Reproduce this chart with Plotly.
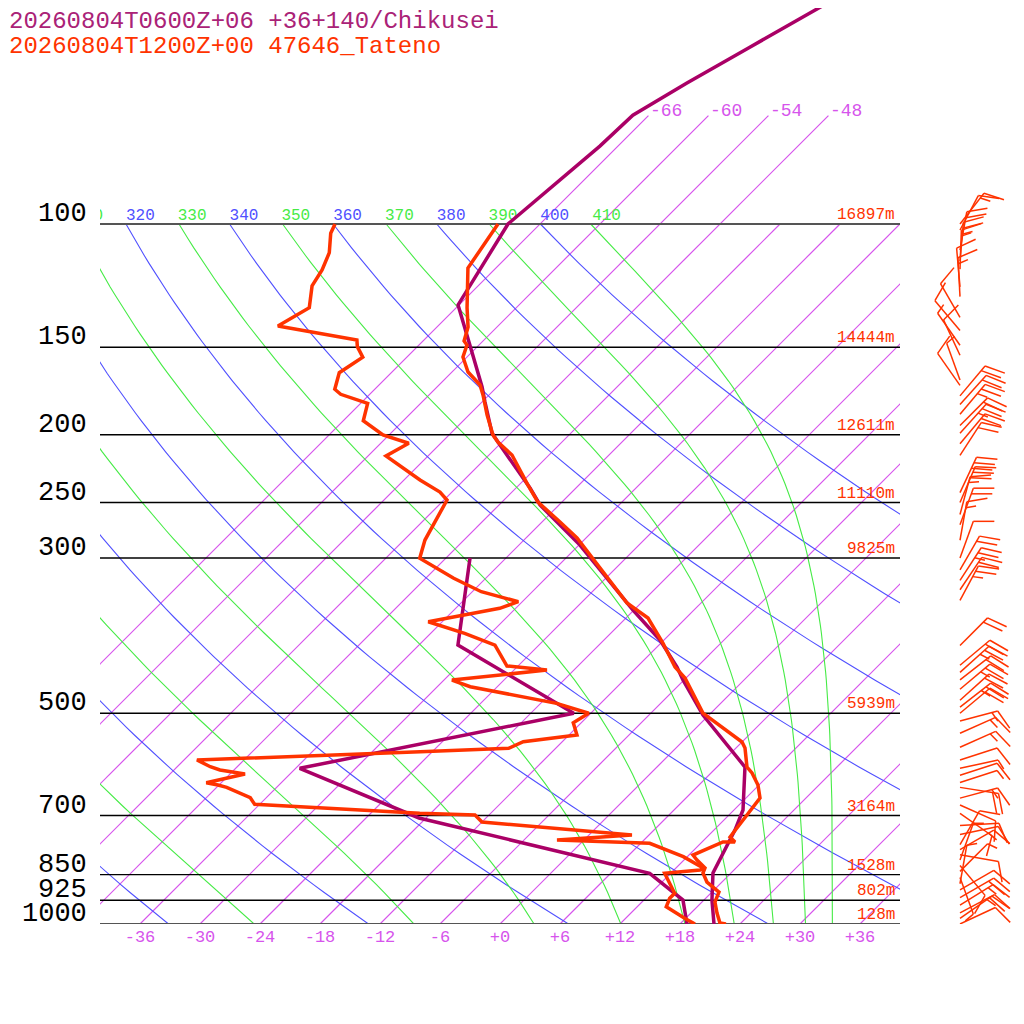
import numpy as np
import plotly.graph_objects as go

# 20260804T0600Z+06 forecast, +36+140/Chikusei (purple)
fc_t_p = [1000, 924.2, 845.6, 734.1, 687.3, 596.7, 502.9, 448.2, 429.4, 392.9, 356.0, 300.0,
          287.5, 252.0, 238.3, 206.9, 198.9, 179.6, 170.9, 152.4, 130.5, 100.0, 86.5, 77.4,
          69.9, 62.9, 55.9, 49.8, 46.8]
fc_t = [21.4, 18.8, 16.2, 14.1, 12.9, 8.8, -0.6, -6.1, -8.0, -12.4, -18.1, -27.6,
        -29.9, -37.9, -40.6, -47.9, -49.9, -53.7, -55.5, -60.0, -66.1, -69.2, -68.4, -67.8,
        -67.6, -65.4, -62.7, -59.9, -58.6]
fc_td_p = [1000, 924.2, 846.5, 705.6, 599.2, 500.0, 399.5, 300.0]
fc_td = [18.7, 15.9, 9.9, -18.7, -35.6, -13.7, -32.1, -39.6]

# 20260804T1200Z+00 observation, 47646_Tateno (orange)
ob_t_p = [1000, 996.8, 964.5, 930.3, 900.2, 871.1, 845.6, 831.8, 810.2, 797.0, 763.6, 763.6,
          751.1, 660.7, 633.1, 608.5, 596.7, 560.5, 549.5, 516.2, 499.6, 445.2, 436.5, 429.4,
          396.9, 365.5, 347.9, 300.0, 280.9, 266.5, 249.6, 236.0, 213.8, 204.9, 200.2, 187.4,
          175.5, 169.8, 162.7, 154.9, 148.9, 146.9, 140.3, 131.8, 115.6, 100.0]
ob_t = [22.6, 21.9, 20.6, 19.3, 18.7, 16.5, 15.2, 14.9, 13.3, 12.4, 14.1, 15.3,
        14.3, 13.4, 11.9, 10.1, 9.0, 6.9, 6.0, 1.6, -0.8, -6.1, -7.2, -8.2,
        -11.8, -15.8, -19.4, -27.3, -30.9, -34.2, -38.4, -41.1, -45.7, -48.4, -49.6, -52.2,
        -54.6, -55.9, -58.4, -60.4, -61.2, -61.9, -62.9, -64.9, -68.8, -70.2]
ob_td_p = [1000, 981.6, 944.8, 919.0, 904.0, 846.5, 837.3, 832.6, 801.4, 766.9, 758.6, 746.3,
           715.0, 698.7, 694.8, 674.6, 660.1, 637.9, 633.1, 628.3, 610.5, 602.6, 596.1, 583.1,
           567.4, 561.1, 549.0, 537.1, 515.8, 500.0, 483.9, 458.2, 448.2, 433.7, 428.0, 399.5,
           384.4, 370.0, 354.0, 346.4, 335.2, 320.7, 300.3, 282.8, 247.9, 241.5, 232.1, 214.5,
           205.7, 200.2, 191.0, 180.4, 175.1, 172.2, 163.1, 155.0, 149.7, 146.5, 139.9, 131.7,
           122.6, 116.3, 109.9, 103.1, 100.0]
ob_td = [19.5, 17.9, 14.9, 14.4, 14.4, 11.4, 14.6, 14.8, 11.6, 6.9, -2.7, 4.3,
         -12.0, -13.4, -19.1, -36.5, -37.6, -41.0, -42.1, -43.5, -40.5, -43.4, -44.7, -46.7,
         -25.2, -16.7, -15.9, -11.2, -12.8, -12.2, -16.4, -26.7, -29.2, -20.7, -25.1, -28.4,
         -32.6, -37.4, -31.6, -30.4, -35.1, -39.2, -44.6, -45.9, -47.7, -49.2, -52.4, -58.2,
         -57.2, -60.6, -64.0, -65.3, -68.9, -70.0, -71.2, -70.4, -72.0, -72.7, -82.0, -80.7,
         -82.6, -83.2, -84.2, -86.0, -86.5]

# standard levels and observed heights
levels = [100, 150, 200, 250, 300, 500, 700, 850, 925, 1000]
level_heights = ["16897m", "14444m", "12611m", "11110m", "9825m", "5939m", "3164m", "1528m", "802m", "128m"]

# Tateno winds (direction the barb points, knots)
wind_p = [1000, 982, 964, 940, 917, 894, 876, 858, 841, 825, 810, 796, 783, 770, 745, 723,
          695, 676, 661, 638, 628, 613, 599, 583, 559, 534, 513, 500, 490, 479, 462, 448,
          437, 427, 400, 345, 333, 323, 312, 300, 283, 269, 260, 250, 242, 214, 206, 199,
          194, 187, 181, 176, 170, 167, 154, 149, 142, 136, 127, 123, 116, 113, 109, 102, 100]
wind_dir = [65, 55, 62, 58, 60, 60, 10, 160, 45, 140, 20, 100, 60, 30, 78, 87,
            125, 114, 75, 99, 72, 72, 78, 72, 66, 66, 75, 50, 52, 48, 50, 52,
            48, 50, 45, 28, 34, 33, 30, 20, 10, 20, 15, 23, 25, 33, 40, 42,
            45, 40, 42, 40, -35, -20, -25, -35, -40, -30, -3, -5, 2, 5, 10, 28, 38]
wind_kt = [10, 15, 20, 15, 20, 10, 5, 5, 5, 10, 5, 10, 15, 10, 10, 10,
           10, 10, 15, 20, 5, 10, 5, 10, 15, 15, 15, 20, 25, 20, 25, 20,
           25, 20, 20, 25, 20, 25, 20, 10, 15, 20, 15, 30, 30, 20, 20, 25,
           20, 25, 20, 20, 10, 5, 10, 5, 10, 10, 15, 10, 15, 25, 20, 10, 15]

# diagram background
isotherms = list(range(-66, 37, 6))
isotherms_high = [-66, -60, -54, -48]
dry_adiabats = list(range(240, 401, 20))
moist_adiabats = list(range(250, 411, 20))
temp_ticks = list(range(-36, 37, 6))
temp_tick_text = [f"{t:+d}" for t in temp_ticks]

PURPLE = "rgb(170,0,102)"
ORANGE = "rgb(255,51,0)"
VIOLET = "rgb(214,84,236)"
BLUE = "rgb(80,80,255)"
GREEN = "rgb(70,235,70)"
MONO = "Liberation Mono"

# page body has an 8px margin: the plot is laid out relative to that
SKEW = 70 / np.log(10)
PX_PER_LN = 700 / np.log(10)
PLOT_H = 916
Y_TOP = 3 - PLOT_H / 700
PLOT_W = 932


def skew_x(t, p):
    return np.asarray(t, float) + SKEW * np.log(1000 / np.asarray(p, float))


def joined(xs_list, ps_list):
    xs, ys = [], []
    for a, b in zip(xs_list, ps_list):
        xs += [float(v) for v in a] + [None]
        ys += [float(v) for v in b] + [None]
    return xs, ys


def theta_e(tc, p):
    tk = tc + 273.15
    es = 6.112 * np.exp(17.67 * tc / (tc + 243.5))
    r = 622 * es / (p - es)
    th = tk * (1000 / p) ** (0.2854 * (1 - 0.28e-3 * r))
    return th * np.exp((3.376 / tk - 0.00254) * r * (1 + 0.81e-3 * r))


def moist_t(the, p):
    lo = np.full_like(p, -130.0)
    hi = np.full_like(p, 38.0)
    for _ in range(50):
        mid = (lo + hi) / 2
        up = theta_e(mid, p) > the
        hi = np.where(up, mid, hi)
        lo = np.where(up, lo, mid)
    return (lo + hi) / 2


fig = go.Figure()

pp = np.geomspace(1000, 100, 90)

# isotherms
for t in isotherms:
    top = 70 if t in isotherms_high else 100
    fig.add_trace(go.Scatter(x=skew_x([t, t], [1000, top]), y=[1000, top], mode="lines",
                             line=dict(color=VIOLET, width=1.2)))

# dry adiabats
x, y = joined([skew_x(th * (pp / 1000) ** 0.2857 - 273.15, pp) for th in dry_adiabats],
              [pp] * len(dry_adiabats))
fig.add_trace(go.Scatter(x=x, y=y, mode="lines", line=dict(color=BLUE, width=1.1)))

# saturated adiabats
x, y = joined([skew_x(moist_t(te, pp), pp) for te in moist_adiabats],
              [pp] * len(moist_adiabats))
fig.add_trace(go.Scatter(x=x, y=y, mode="lines", line=dict(color=GREEN, width=1.1)))

# pressure lines
for p in levels:
    edge = p in (100, 1000)
    fig.add_trace(go.Scatter(x=[-40, 40], y=[p, p], mode="lines",
                             line=dict(color="#555555" if edge else "#000000", width=2 if edge else 1.4)))

# adiabat labels at 100 hPa
lab_th = sorted(dry_adiabats + moist_adiabats)
lab_th = [th for th in lab_th if th >= 310]
lab_x = [float(skew_x(th * 0.1 ** 0.2857 - 273.15, 100)) for th in lab_th]
fig.add_trace(go.Scatter(x=lab_x, y=[100] * len(lab_th), mode="text", text=[str(v) for v in lab_th],
                         textposition="top right", cliponaxis=True,
                         textfont=dict(family=MONO, size=16,
                                       color=[BLUE if th in dry_adiabats else GREEN for th in lab_th])))

# soundings
fig.add_trace(go.Scatter(x=skew_x(fc_td, fc_td_p), y=fc_td_p, mode="lines", line=dict(color=PURPLE, width=3.5)))
fig.add_trace(go.Scatter(x=skew_x(fc_t, fc_t_p), y=fc_t_p, mode="lines", line=dict(color=PURPLE, width=3.5)))
fig.add_trace(go.Scatter(x=skew_x(ob_td, ob_td_p), y=ob_td_p, mode="lines", line=dict(color=ORANGE, width=3.5)))
fig.add_trace(go.Scatter(x=skew_x(ob_t, ob_t_p), y=ob_t_p, mode="lines", line=dict(color=ORANGE, width=3.5)))

# wind barbs
SHAFT, FEATHER, STEP, BASE = 39, 21, 6, 60
bx, by = [], []
for p0, d, s in zip(wind_p, wind_dir, wind_kt):
    a, fa = np.radians(d), np.radians(d + 70)

    def seg(x0, u0, x1, u1):
        bx.extend([x0, x1, None])
        by.extend([p0 * np.exp(-u0 / PX_PER_LN), p0 * np.exp(-u1 / PX_PER_LN), None])

    seg(BASE, 0, BASE + SHAFT * np.sin(a), SHAFT * np.cos(a))
    pos = SHAFT
    feathers = [FEATHER] * (s // 10) + ([FEATHER / 2] if s % 10 >= 5 else [])
    for f in feathers:
        sx, su = BASE + pos * np.sin(a), pos * np.cos(a)
        seg(sx, su, sx + f * np.sin(fa), su + f * np.cos(fa))
        pos -= STEP
fig.add_trace(go.Scatter(x=bx, y=by, xaxis="x2", yaxis="y", mode="lines",
                         line=dict(color=ORANGE, width=1.5)))

ann = []
for p, h in zip(levels, level_heights):
    ann.append(dict(xref="paper", yref="y", x=0, y=np.log10(p), xanchor="right", yanchor="bottom",
                    xshift=-12, yshift=-6, text=str(p), showarrow=False, borderpad=0,
                    font=dict(family=MONO, size=27, color="#000000")))
    ann.append(dict(xref="x", yref="y", x=40, y=np.log10(p), xanchor="right", yanchor="bottom",
                    xshift=-4, yshift=-1, text=h, showarrow=False, borderpad=0,
                    font=dict(family=MONO, size=16, color=ORANGE)))
for t in isotherms_high:
    ann.append(dict(xref="x", yref="y", x=float(skew_x(t, 70)), y=np.log10(70), xanchor="left",
                    yanchor="middle", yshift=5, text=str(t), showarrow=False,
                    font=dict(family=MONO, size=18, color=VIOLET)))
ann.append(dict(xref="paper", yref="paper", x=-92 / PLOT_W, y=1 - 13 / PLOT_H, xanchor="left", yanchor="middle",
                text="20260804T0600Z+06 +36+140/Chikusei", showarrow=False, borderpad=0,
                font=dict(family=MONO, size=24, color="#aa2277")))
ann.append(dict(xref="paper", yref="paper", x=-92 / PLOT_W, y=1 - 38 / PLOT_H, xanchor="left", yanchor="middle",
                text="20260804T1200Z+00 47646_Tateno", showarrow=False, borderpad=0,
                font=dict(family=MONO, size=24, color=ORANGE)))

fig.update_layout(
    width=1024, height=1024,
    margin=dict(l=92, r=0, t=0, b=1024 - PLOT_H),
    plot_bgcolor="white", paper_bgcolor="white",
    showlegend=False, hovermode=False,
    annotations=ann,
    xaxis=dict(domain=[0, 800 / PLOT_W], range=[-40, 40], showgrid=False, zeroline=False,
               showline=False, ticks="", tickvals=temp_ticks, ticktext=temp_tick_text,
               tickfont=dict(family=MONO, size=17, color=VIOLET)),
    xaxis2=dict(domain=[800 / PLOT_W, 1], range=[0, PLOT_W - 800], anchor="y", visible=False),
    yaxis=dict(type="log", range=[3, Y_TOP], visible=False),
)

fig.write_html("out.html")
